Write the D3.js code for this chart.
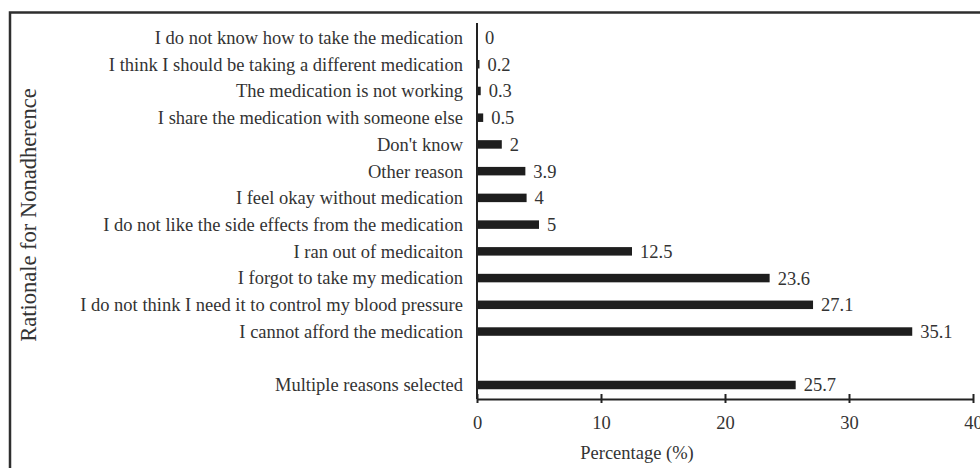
<!DOCTYPE html>
<html>
<head>
<meta charset="utf-8">
<script src="https://cdn.jsdelivr.net/npm/d3@7"></script>
<style>
  html, body { margin: 0; padding: 0; background: #fff; }
  svg { display: block; font-family: "Liberation Serif", "Times New Roman", serif; }
  .tick text { fill: #333; }
</style>
</head>
<body>
<svg id="chart"></svg>
<script>
// categories top to bottom, a blank slot sits before the last one
const reasons = [
  "I do not know how to take the medication",
  "I think I should be taking a different medication",
  "The medication is not working",
  "I share the medication with someone else",
  "Don't know",
  "Other reason",
  "I feel okay without medication",
  "I do not like the side effects from the medication",
  "I ran out of medicaiton",
  "I forgot to take my medication",
  "I do not think I need it to control my blood pressure",
  "I cannot afford the medication",
  "",
  "Multiple reasons selected"
];
const percents = [0, 0.2, 0.3, 0.5, 2, 3.9, 4, 5, 12.5, 23.6, 27.1, 35.1, null, 25.7];
const xTicks = [0, 10, 20, 30, 40];

const data = reasons
  .map((r, i) => ({ reason: r, value: percents[i] }))
  .filter(d => d.value !== null);

const dimensions = {
  width: 980,
  height: 468,
  plotLeft: 477,
  plotRight: 973,
  plotTop: 23,
  plotBottom: 399
};

const svg = d3.select("#chart")
  .attr("width", dimensions.width)
  .attr("height", dimensions.height);

// frame round the whole figure, runs off the right and bottom edges
svg.append("rect")
  .attr("x", 10)
  .attr("y", 12.5)
  .attr("width", 1000)
  .attr("height", 500)
  .attr("fill", "#fff")
  .attr("stroke", "#2e2e2e")
  .attr("stroke-width", 2.5);

const xScale = d3.scaleLinear()
  .domain([0, 40])
  .range([dimensions.plotLeft, dimensions.plotRight]);

const yScale = d3.scalePoint()
  .domain(reasons.map((r, i) => i))
  .range([37.5, 385]);

const barHeight = 8.5;
const fontSize = 18.5;

// bars
svg.append("g")
  .selectAll("rect")
  .data(data)
  .join("rect")
  .attr("x", xScale(0))
  .attr("y", d => yScale(reasons.indexOf(d.reason)) - barHeight / 2)
  .attr("width", d => xScale(d.value) - xScale(0))
  .attr("height", barHeight)
  .attr("fill", "#1e1e1e");

// value labels
svg.append("g")
  .selectAll("text")
  .data(data)
  .join("text")
  .attr("x", d => xScale(d.value) + 8)
  .attr("y", d => yScale(reasons.indexOf(d.reason)))
  .attr("dy", "0.35em")
  .attr("font-size", fontSize)
  .attr("fill", "#333")
  .text(d => d.value);

// category labels
const yAxis = svg.append("g")
  .attr("transform", `translate(${dimensions.plotLeft},0)`)
  .call(d3.axisLeft(yScale)
    .tickSize(0)
    .tickPadding(14)
    .tickFormat(i => reasons[i]));
yAxis.attr("font-family", null).attr("font-size", fontSize);
yAxis.select(".domain").remove();

// vertical axis line
svg.append("line")
  .attr("x1", xScale(0))
  .attr("x2", xScale(0))
  .attr("y1", dimensions.plotTop)
  .attr("y2", dimensions.plotBottom)
  .attr("stroke", "#222")
  .attr("stroke-width", 2);

// x axis with ticks crossing the line
const xAxis = svg.append("g")
  .attr("transform", `translate(0,${dimensions.plotBottom})`)
  .call(d3.axisBottom(xScale)
    .tickValues(xTicks)
    .tickSizeInner(4)
    .tickSizeOuter(0)
    .tickPadding(13));
xAxis.attr("font-family", null).attr("font-size", fontSize);
xAxis.select(".domain").attr("stroke", "#222").attr("stroke-width", 2);
xAxis.selectAll(".tick line")
  .attr("y1", -5)
  .attr("stroke", "#222")
  .attr("stroke-width", 2);

// axis titles
svg.append("text")
  .attr("x", 637)
  .attr("y", 453)
  .attr("dy", "0.35em")
  .attr("text-anchor", "middle")
  .attr("font-size", fontSize)
  .attr("fill", "#333")
  .text("Percentage (%)");

svg.append("text")
  .attr("transform", "translate(28,215) rotate(-90)")
  .attr("dy", "0.35em")
  .attr("text-anchor", "middle")
  .attr("font-size", 22.5)
  .attr("fill", "#333")
  .text("Rationale for Nonadherence");
</script>
</body>
</html>
